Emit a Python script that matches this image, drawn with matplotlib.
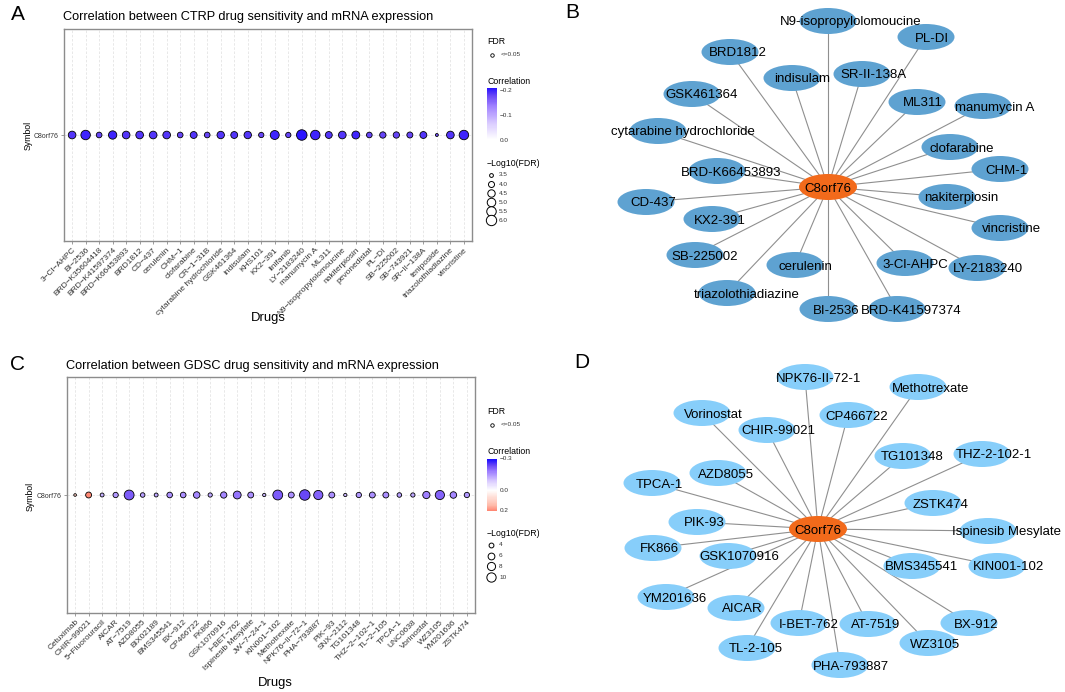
import numpy as np
import matplotlib
matplotlib.use('Agg')
import matplotlib.pyplot as plt
from matplotlib.colors import LinearSegmentedColormap, Normalize
from matplotlib.patches import Ellipse

plt.rcParams['font.family'] = ['Liberation Sans', 'DejaVu Sans']

# ---- CTRP dot plot data (panel A)
ctrp_drugs = ['3-Cl-AHPC', 'BI-2536', 'BRD-K35604418', 'BRD-K41597374', 'BRD-K66453893',
              'BRD1812', 'CD-437', 'cerulenin', 'CHM-1', 'clofarabine', 'CR-1-31B',
              'cytarabine hydrochloride', 'GSK461364', 'indisulam', 'KHS101', 'KX2-391',
              'linifanib', 'LY-2183240', 'manumycin A', 'ML311', 'N9-isopropylolomoucine',
              'nakiterpiosin', 'pevonedistat', 'PL-DI', 'SB-225002', 'SB-743921',
              'SR-II-138A', 'teniposide', 'triazolothiadiazine', 'vincristine']
ctrp_logfdr = [4.6, 5.5, 3.9, 4.9, 4.6, 4.6, 4.6, 4.6, 3.9, 4.3, 3.9, 4.5, 4.3, 4.5, 3.8,
               5.2, 3.8, 6.1, 5.5, 4.3, 4.6, 4.7, 3.9, 4.1, 4.1, 4.0, 4.3, 3.4, 4.6, 5.5]
ctrp_corr = [-0.19, -0.20, -0.18, -0.20, -0.19, -0.19, -0.19, -0.19, -0.18, -0.19, -0.18,
             -0.19, -0.19, -0.19, -0.18, -0.20, -0.18, -0.21, -0.20, -0.19, -0.19, -0.20,
             -0.18, -0.18, -0.18, -0.18, -0.19, -0.17, -0.19, -0.20]
ctrp_size_breaks = [3.5, 4.0, 4.5, 5.0, 5.5, 6.0]
ctrp_corr_breaks = [-0.2, -0.1, 0.0]

# ---- GDSC dot plot data (panel C)
gdsc_drugs = ['Cetuximab', 'CHIR-99021', '5-Fluorouracil', 'AICAR', 'AT-7519', 'AZD8055',
              'BIX02189', 'BMS345541', 'BX-912', 'CP466722', 'FK866', 'GSK1070916',
              'I-BET-762', 'Ispinesib Mesylate', 'JW-7-24-1', 'KIN001-102', 'Methotrexate',
              'NPK76-II-72-1', 'PHA-793887', 'PIK-93', 'SNX-2112', 'TG101348', 'THZ-2-102-1',
              'TL-2-105', 'TPCA-1', 'UNC0638', 'Vorinostat', 'WZ3105', 'YM201636', 'ZSTK474']
gdsc_logfdr = [2.9, 5.0, 3.4, 4.4, 11.1, 3.8, 3.4, 4.7, 4.7, 5.7, 3.6, 5.4, 7.5, 5.0, 3.1,
               11.1, 5.0, 12.5, 9.8, 5.0, 3.1, 4.4, 5.0, 5.0, 3.8, 3.6, 6.6, 9.8, 5.7, 4.4]
gdsc_corr = [0.10, 0.20, -0.12, -0.15, -0.22, -0.14, -0.13, -0.16, -0.16, -0.17, -0.13,
             -0.17, -0.19, -0.16, -0.11, -0.22, -0.16, -0.24, -0.21, -0.16, -0.11, -0.15,
             -0.16, -0.16, -0.14, -0.13, -0.18, -0.21, -0.17, -0.15]
gdsc_size_breaks = [4, 6, 8, 10]
gdsc_corr_breaks = [-0.3, 0.0, 0.2]

# ---- networks (panel B and D), layout in canvas pixels
hub_name = 'C8orf76'
hub_b = (828, 187)
layout_b = {
    'N9-isopropylolomoucine': (828, 21), 'PL-DI': (926, 37), 'BRD1812': (730, 52),
    'indisulam': (792, 78), 'SR-II-138A': (862, 74), 'ML311': (917, 102),
    'manumycin A': (983, 106), 'GSK461364': (692, 94), 'cytarabine hydrochloride': (658, 131),
    'clofarabine': (950, 147), 'CHM-1': (1000, 169), 'BRD-K66453893': (717, 171),
    'nakiterpiosin': (947, 197), 'CD-437': (646, 202), 'KX2-391': (712, 219),
    'vincristine': (1000, 228), 'SB-225002': (695, 255), 'cerulenin': (795, 265),
    '3-Cl-AHPC': (905, 263), 'LY-2183240': (977, 268), 'triazolothiadiazine': (727, 293),
    'BI-2536': (828, 309), 'BRD-K41597374': (897, 309),
}
hub_d = (818, 529)
layout_d = {
    'NPK76-II-72-1': (805, 377), 'Methotrexate': (918, 387), 'Vorinostat': (702, 413),
    'CP466722': (848, 415), 'CHIR-99021': (767, 430), 'TG101348': (903, 456),
    'THZ-2-102-1': (982, 454), 'AZD8055': (718, 473), 'TPCA-1': (652, 483),
    'ZSTK474': (933, 503), 'PIK-93': (697, 522), 'Ispinesib Mesylate': (988, 531),
    'FK866': (653, 548), 'GSK1070916': (728, 556), 'BMS345541': (912, 566),
    'KIN001-102': (997, 566), 'YM201636': (666, 597), 'AICAR': (736, 608),
    'I-BET-762': (799, 623), 'AT-7519': (868, 624), 'BX-912': (969, 623),
    'WZ3105': (928, 643), 'TL-2-105': (747, 648), 'PHA-793887': (840, 665),
}

W, H = 1065, 692
fig = plt.figure(figsize=(W / 100, H / 100), dpi=100)


def px_rect(x0, y0, x1, y1):
    return [x0 / W, 1 - y1 / H, (x1 - x0) / W, (y1 - y0) / H]


def minus(s):
    return s.replace('-', '\u2212')


# colour ramps roughly like ggplot's Lab interpolation
blue_cmap = LinearSegmentedColormap.from_list(
    'wb', [(0, '#ffffff'), (0.33, '#d8c9ff'), (0.66, '#9f80ff'), (0.85, '#6a48f6'),
           (1, '#2b14ff')])
div_cmap = LinearSegmentedColormap.from_list(
    'bwr', [(0, '#1a0dff'), (0.1, '#6a48f6'), (0.2, '#9f80ff'), (0.35, '#d8c9ff'),
            (0.5, '#ffffff'), (0.75, '#ffb9a8'), (1, '#ff2a10')])


def dot_area(v, lo, hi):
    n = np.clip((np.asarray(v, float) - lo) / (hi - lo), 0, 1)
    d_px = 1.75 * (1 + 5 * np.sqrt(n))
    return (d_px * 0.72) ** 2


def dot_panel(box, drugs, logfdr, corr, cmap, norm, lo, hi):
    ax = fig.add_axes(px_rect(*box))
    x = np.arange(len(drugs))
    ax.scatter(x, np.zeros(len(drugs)), s=dot_area(logfdr, lo, hi), c=corr, cmap=cmap,
               norm=norm, edgecolors='black', linewidths=0.6, zorder=3)
    ax.set_xlim(-0.6, len(drugs) - 0.4)
    ax.set_ylim(-0.6, 0.6)
    ax.set_xticks(x)
    ax.set_xticklabels([minus(d) for d in drugs], rotation=45, ha='right', va='top',
                       rotation_mode='anchor', fontsize=6, color='#333333')
    ax.set_yticks([0])
    ax.set_yticklabels([hub_name], fontsize=5, color='#333333')
    ax.grid(True, color='#e4e4e4', linestyle=(0, (3, 2)), linewidth=0.6, zorder=0)
    ax.set_axisbelow(True)
    for sp in ax.spines.values():
        sp.set_color('#8c8c8c')
        sp.set_linewidth(1.0)
    ax.tick_params(color='#8c8c8c', length=2.5, width=0.6, pad=1.5)
    return ax


def legend_panel(box, top, bar_top, bar_bot, vtop, vbot, cmap, norm, cbreaks,
                 size_y0, sbreaks, sstep, lo, hi, fmt):
    lg = fig.add_axes(px_rect(*box))
    lg.set_xlim(box[0], box[2])
    lg.set_ylim(box[3], box[1])
    lg.axis('off')
    lx = 487
    lg.text(lx, top, 'FDR', fontsize=6.3, va='center', ha='left')
    lg.scatter([492], [top + 13], s=(3.5 * 0.72) ** 2, facecolors='white',
               edgecolors='black', linewidths=0.6)
    lg.text(501, top + 13, '<=0.05', fontsize=4.6, va='center', color='#333333')
    lg.text(lx, bar_top - 7, 'Correlation', fontsize=6.3, va='center', ha='left')
    yedges = np.linspace(bar_top, bar_bot, 101)
    vals = np.linspace(vtop, vbot, 100).reshape(100, 1)
    lg.pcolormesh(np.array([lx, lx + 10]), yedges, vals, cmap=cmap, norm=norm,
                  shading='flat')
    for b in cbreaks:
        yy = bar_top + (b - vtop) / (vbot - vtop) * (bar_bot - bar_top)
        lg.text(lx + 13, yy, minus(f'{b:.1f}'), fontsize=4.6, va='center', color='#333333')
    lg.text(lx, size_y0 - 12, '\u2212Log10(FDR)', fontsize=6.3, va='center', ha='left')
    for i, b in enumerate(sbreaks):
        yy = size_y0 + i * sstep
        lg.scatter([491], [yy], s=dot_area([b], lo, hi), facecolors='white',
                   edgecolors='black', linewidths=0.7)
        lg.text(499, yy, fmt.format(b), fontsize=4.6, va='center', color='#333333')
    return lg


def draw_network(box, hub_xy, layout, node_color):
    ax = fig.add_axes(px_rect(*box))
    ax.set_xlim(box[0], box[2])
    ax.set_ylim(box[3], box[1])
    ax.axis('off')
    hx, hy = hub_xy
    for name, (x, y) in layout.items():
        ax.plot([hx, x], [hy, y], color='#8f8f8f', lw=0.8, zorder=1)
    for name, (x, y) in layout.items():
        ax.add_patch(Ellipse((x, y), 57, 26, facecolor=node_color, edgecolor='none', zorder=2))
    for name, (x, y) in layout.items():
        ax.text(x + len(name) + 1, y, name, ha='center', va='center_baseline',
                fontsize=9.5, zorder=3)
    ax.add_patch(Ellipse(hub_xy, 58, 26, facecolor='#f26a1b', edgecolor='none', zorder=4))
    ax.text(hx, hy, hub_name, ha='center', va='center_baseline', fontsize=9.5, zorder=5)
    return ax


# ---- panel A
lo_a, hi_a = 3.35, 6.1
norm_a = Normalize(vmin=-0.21, vmax=0.0)
cmap_a = blue_cmap.reversed()
dot_panel((64, 29, 472, 241), ctrp_drugs, ctrp_logfdr, ctrp_corr, cmap_a, norm_a, lo_a, hi_a)
legend_panel((478, 25, 560, 240), 42, 88, 140, -0.21, 0.0, cmap_a, norm_a, ctrp_corr_breaks,
             175, ctrp_size_breaks, 9, lo_a, hi_a, '{:.1f}')
fig.text(63 / W, 1 - 17 / H, 'Correlation between CTRP drug sensitivity and mRNA expression',
         fontsize=9.2, ha='left', va='center')
fig.text(268 / W, 1 - 318 / H, 'Drugs', fontsize=9.4, ha='center', va='center')
fig.text(28 / W, 1 - 135 / H, 'Symbol', fontsize=6.3, rotation=90, ha='center', va='center')

# ---- panel C
lo_c, hi_c = 2.8, 12.5
norm_c = Normalize(vmin=-0.3, vmax=0.3)
dot_panel((67, 377, 475, 613), gdsc_drugs, gdsc_logfdr, gdsc_corr, div_cmap, norm_c, lo_c, hi_c)
legend_panel((478, 400, 560, 600), 412, 459, 511, -0.3, 0.2, div_cmap, norm_c, gdsc_corr_breaks,
             545, gdsc_size_breaks, 10.7, lo_c, hi_c, '{:g}')
fig.text(66 / W, 1 - 366 / H, 'Correlation between GDSC drug sensitivity and mRNA expression',
         fontsize=9.2, ha='left', va='center')
fig.text(275 / W, 1 - 683 / H, 'Drugs', fontsize=9.4, ha='center', va='center')
fig.text(30 / W, 1 - 496 / H, 'Symbol', fontsize=6.3, rotation=90, ha='center', va='center')

# ---- networks
draw_network((560, 0, 1065, 330), hub_b, layout_b, '#5ea2d1')
draw_network((560, 338, 1065, 692), hub_d, layout_d, '#87cefa')

# panel letters
for letter, (lx, ly) in {'A': (18, 15), 'B': (572, 12), 'C': (18, 365), 'D': (582, 363)}.items():
    fig.text(lx / W, 1 - ly / H, letter, fontsize=15, ha='center', va='center')

fig.savefig('out.png', dpi=100)
